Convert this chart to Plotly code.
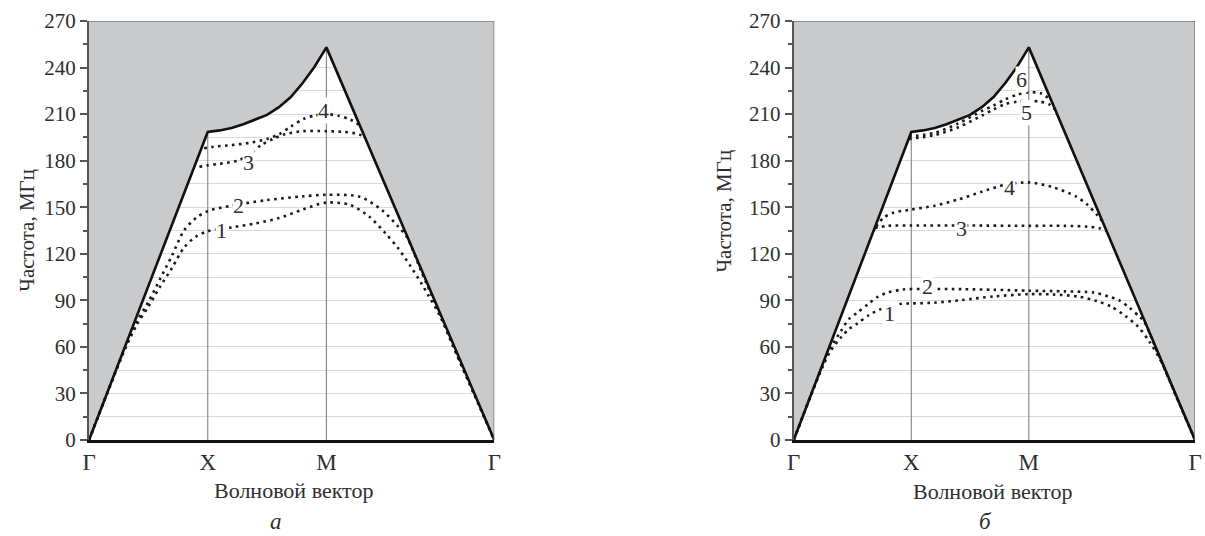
import numpy as np
import plotly.graph_objects as go

# ---------------- data ----------------
SQ2 = float(np.sqrt(2.0))
K_G, K_X, K_M, K_G2 = 0.0, 1.0, 2.0, 2.0 + SQ2
TICK_VALS = [K_G, K_X, K_M, K_G2]
TICK_TEXT = ["Г", "X", "M", "Г"]
Y_TICKS = [0, 30, 60, 90, 120, 150, 180, 210, 240, 270]

# boundary (light line) – same for both panels
K_BND = [0.0, 1.0, 1.1, 1.2, 1.3, 1.4, 1.5, 1.6, 1.7, 1.8, 1.9, 2.0, K_G2]
F_BND = [0, 198.5, 199.5, 201, 203.5, 206.5, 209.5, 214.5, 221, 230, 240.5, 253, 0]

# panel а
A1_K = [0, 0.15, 0.3, 0.4, 0.5, 0.6, 0.7, 0.8, 0.9, 1.0, 1.2, 1.4, 1.6, 1.8, 2.0, 2.2, 2.36, 2.5, 2.6, 2.7, 2.8, 2.86, 2.95, 3.1, 3.25, K_G2]
A1_F = [0, 29.5, 58, 74, 86, 99, 111, 124, 131, 134.5, 137, 139.5, 143, 148.5, 153, 151.5, 144, 133, 124, 113, 101, 93, 81, 54.5, 28.5, 0]
A2_K = [0, 0.15, 0.3, 0.4, 0.5, 0.6, 0.7, 0.8, 0.9, 1.0, 1.2, 1.5, 1.8, 2.0, 2.28, 2.47, 2.6, 2.68, 2.8, 3.0, 3.2, K_G2]
A2_F = [0, 29.7, 59, 76, 89, 104, 119, 135, 143, 147.5, 151, 154.6, 157, 158, 156.8, 148, 138, 130.5, 108.5, 73.5, 37.5, 0]
A3_K = [0.93, 1.0, 1.1, 1.25, 1.35, 1.45, 1.55, 1.65, 1.8, 2.0, 2.15, 2.25, 2.31]
A3_F = [176, 177, 178, 180, 184, 190, 194, 197, 199, 199, 198.5, 197.5, 196]
A4_K = [0.97, 1.05, 1.2, 1.35, 1.5, 1.6, 1.7, 1.81, 1.9, 2.0, 2.1, 2.2, 2.28]
A4_F = [188, 189, 190, 191.5, 194, 197, 202, 207, 209, 210, 209, 206.5, 203]
A_LABELS = ["1", "2", "3", "4"]
A_LABEL_K = [1.118, 1.26, 1.345, 1.975]
A_LABEL_F = [135.3, 151.4, 179, 212.6]

# panel б
B1_K = [0, 0.15, 0.25, 0.31, 0.4, 0.47, 0.54, 0.64, 0.73, 0.9, 1.0, 1.2, 1.43, 1.7, 2.0, 2.2, 2.42, 2.58, 2.7, 2.82, 2.93, 3.03, 3.13, 3.25, K_G2]
B1_F = [0, 29.5, 48, 57, 66, 71.5, 75, 80.5, 84, 87.6, 88, 88.5, 90.2, 92.5, 94, 93.8, 92.4, 89.5, 86, 80, 73, 63, 50, 28.8, 0]
B2_K = [0, 0.15, 0.31, 0.4, 0.47, 0.54, 0.63, 0.71, 0.8, 0.93, 1.1, 1.43, 1.7, 2.0, 2.3, 2.55, 2.68, 2.77, 2.86, 2.94, 2.98, 3.1, 3.25, K_G2]
B2_F = [0, 29.7, 59, 70, 78, 82, 87.5, 92, 95, 97, 97.3, 97.2, 96.8, 96.2, 95.8, 95, 92.5, 90, 85, 79.5, 76.5, 55.5, 29, 0]
B3_K = [0.69, 0.8, 1.0, 1.5, 2.0, 2.3, 2.5, 2.6, 2.66]
B3_F = [136.5, 138, 138.2, 138.2, 138, 138, 137.5, 136.5, 135]
B4_K = [0.70, 0.76, 0.85, 1.0, 1.2, 1.4, 1.6, 1.8, 2.0, 2.2, 2.4, 2.5, 2.58, 2.63]
B4_F = [137.5, 143, 146.5, 148.5, 151, 155, 160, 164.5, 166, 163, 157, 151.5, 145, 140.5]
B5_K = [0.98, 1.2, 1.4, 1.6, 1.7, 1.8, 1.9, 2.0, 2.1, 2.18, 2.23]
B5_F = [194, 196.5, 201.5, 209, 213, 216.5, 218, 218.5, 218, 216, 212.5]
B6_K = [0.98, 1.2, 1.4, 1.6, 1.7, 1.8, 1.9, 2.0, 2.1, 2.18]
B6_F = [195.5, 198, 204, 212, 215.5, 219.5, 222.5, 224, 223.5, 219.5]
B_LABELS = ["1", "2", "3", "4", "5", "6"]
B_LABEL_K = [0.815, 1.14, 1.425, 1.833, 1.98, 1.94]
B_LABEL_F = [81.8, 98.6, 136.6, 162.4, 211.3, 232]

# ---------------- styles ----------------
FONT = "Liberation Serif"
GRAY_FILL = "#c9cacc"
DOT = dict(color="#1a1a1a", width=2.6, dash="2.6px,4.4px")
W, H = 1205, 536

fig = go.Figure()


def f_at(k):
    return float(np.interp(k, K_BND, F_BND))


def add_panel(xa, ya, bands, labels, lk, lf):
    # gray forbidden region
    fig.add_trace(go.Scatter(x=K_BND + [K_G2, K_G], y=F_BND + [270, 270], fill="toself",
                             fillcolor=GRAY_FILL, line=dict(width=0), mode="lines",
                             hoverinfo="skip", showlegend=False, xaxis=xa, yaxis=ya))
    # vertical symmetry-point lines
    for kk in (K_X, K_M):
        fig.add_trace(go.Scatter(x=[kk, kk], y=[0, f_at(kk)], mode="lines",
                                 line=dict(color="#8c8c8c", width=1.2), hoverinfo="skip",
                                 showlegend=False, xaxis=xa, yaxis=ya))
    # dispersion curves
    for bk, bf in bands:
        fig.add_trace(go.Scatter(x=bk, y=bf, mode="lines", line=dict(shape="spline", smoothing=0.8, **DOT),
                                 showlegend=False, xaxis=xa, yaxis=ya, cliponaxis=False))
    # boundary
    fig.add_trace(go.Scatter(x=K_BND, y=F_BND, mode="lines", line=dict(color="#111", width=2.6),
                             showlegend=False, xaxis=xa, yaxis=ya, cliponaxis=False))
    # top and right border
    fig.add_trace(go.Scatter(x=[K_G, K_G2, K_G2], y=[270, 270, 0], mode="lines",
                             line=dict(color="#7a7a7a", width=1.5), showlegend=False,
                             xaxis=xa, yaxis=ya, cliponaxis=False, hoverinfo="skip"))
    for t, kk, ff in zip(labels, lk, lf):
        fig.add_annotation(x=kk, y=ff, xref=xa, yref=ya, text=t, showarrow=False,
                           xanchor="center", yanchor="middle",
                           font=dict(family=FONT, size=22, color="#2e2e2e"),
                           bgcolor="white", borderpad=0)


add_panel("x", "y", [(A1_K, A1_F), (A2_K, A2_F), (A3_K, A3_F), (A4_K, A4_F)],
          A_LABELS, A_LABEL_K, A_LABEL_F)
add_panel("x2", "y2", [(B1_K, B1_F), (B2_K, B2_F), (B3_K, B3_F), (B4_K, B4_F),
                       (B5_K, B5_F), (B6_K, B6_F)],
          B_LABELS, B_LABEL_K, B_LABEL_F)

xcommon = dict(range=[K_G, K_G2], tickvals=TICK_VALS, ticktext=TICK_TEXT, showgrid=False,
               zeroline=False, showline=True, linecolor="#111", linewidth=2.6, ticks="",
               tickfont=dict(family=FONT, size=23, color="#2e2e2e"), fixedrange=True)
ycommon = dict(range=[0, 270], tickvals=Y_TICKS, showgrid=True, gridcolor="#dadada", gridwidth=1.3,
               zeroline=False, showline=True, linecolor="#555", linewidth=2,
               ticks="outside", ticklen=7, tickwidth=1.5, tickcolor="#555",
               minor=dict(dtick=15, tick0=0, ticks="outside", ticklen=4, tickcolor="#555",
                          showgrid=True, gridcolor="#dadada", gridwidth=1.3),
               tickfont=dict(family=FONT, size=21, color="#2e2e2e"), fixedrange=True)

fig.update_layout(
    width=W, height=H,
    margin=dict(l=0, r=0, t=21, b=96),
    paper_bgcolor="white", plot_bgcolor="white",
    xaxis=dict(domain=[83 / W, 493 / W], anchor="y", **xcommon),
    yaxis=dict(domain=[0, 1], anchor="x", **ycommon),
    xaxis2=dict(domain=[796 / W, 1202 / W], anchor="y2", **xcommon),
    yaxis2=dict(domain=[0, 1], anchor="x2", **ycommon),
    showlegend=False,
)


def py(p):
    return (440 - p) / 419


def note(xp, yp, text, size=20, angle=0):
    fig.add_annotation(x=xp / W, y=py(yp), xref="paper", yref="paper", text=text,
                       showarrow=False, xanchor="center", yanchor="middle", textangle=angle,
                       font=dict(family=FONT, size=size, color="#2e2e2e"))


note(290, 490, "Волновой вектор", size=22)
note(997, 491, "Волновой вектор", size=22)
note(20, 230, "Частота, МГц", size=21, angle=-90)
note(725, 211, "Частота, МГц", size=21, angle=-90)
note(272, 521, "<i>а</i>", size=23)
note(990, 521, "<i>б</i>", size=23)

fig.write_html("out.html")
